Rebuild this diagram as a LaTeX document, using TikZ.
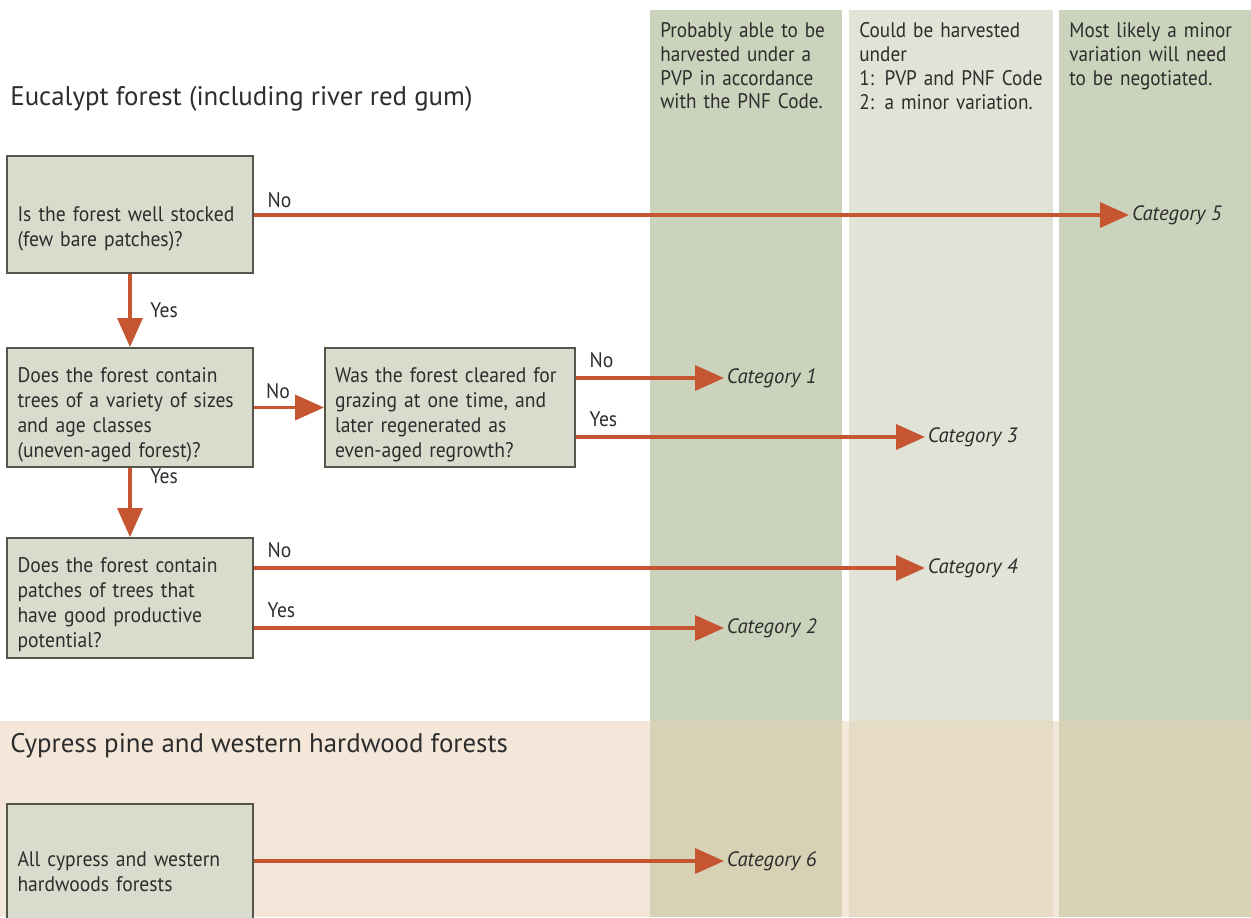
\documentclass[tikz,border=0pt]{standalone}
\usepackage{fontspec}
\setmainfont{PT Sans}
\newfontfamily\boxfont{PT Sans}[FakeStretch=0.93]
\newfontfamily\headfont{PT Sans}[FakeStretch=0.91]
\usetikzlibrary{arrows.meta,positioning}
\definecolor{sage}{RGB}{203,211,189}
\definecolor{pale}{RGB}{224,227,214}
\definecolor{peach}{RGB}{244,230,216}
\definecolor{sageband}{RGB}{215,209,182}
\definecolor{paleband}{RGB}{230,220,198}
\definecolor{boxfill}{RGB}{216,220,205}
\definecolor{boxline}{RGB}{85,85,75}
\definecolor{arrowc}{RGB}{198,86,50}
\definecolor{ink}{RGB}{45,45,45}
\def\Cat{Category}

\begin{document}
\begin{tikzpicture}[x=0.02cm,y=-0.02cm,% pixel-like units, y going down
      every node/.style={
        text=ink,
        font=\boxfont\fontsize{12}{14.2}\selectfont
      },
      qbox/.style={rectangle,draw=boxline,line width=1.1pt,fill=boxfill,
        align=left,text width=4.5cm,minimum width=4.92cm,
        inner xsep=0.2cm,inner ysep=0.05cm,text height=16.5pt},
      cat/.style={anchor=west,inner sep=1.5pt,font=\fontsize{11.8}{14.2}\selectfont\itshape},
      head/.style={anchor=north west,align=left,inner sep=0pt,text width=3.9cm,
        font=\headfont\fontsize{12}{13.6}\selectfont},
      title/.style={anchor=base west,inner sep=0pt,font=\fontsize{15.3}{18}\selectfont},
      sidelbl/.style={pos=0,anchor=south west,xshift=0.17cm,yshift=0.1cm,inner sep=2pt},
      downlbl/.style={anchor=west,xshift=0.3cm,inner sep=2pt},
      every edge/.style={draw=arrowc,line width=2pt,
        -{Triangle[length=0.58cm,width=0.5cm]}}
    ]
    \useasboundingbox (0,0) rectangle (1251,917);
    % columns and bands
    \fill[sage] (650,10) rectangle (842,721);
    \fill[pale] (849,10) rectangle (1053,721);
    \fill[sage] (1059,10) rectangle (1251,721);
    \fill[peach] (0,721) rectangle (1251,917);
    \fill[sageband] (650,721) rectangle (842,917);
    \fill[paleband] (849,721) rectangle (1053,917);
    \fill[sageband] (1059,721) rectangle (1251,917);

    \node[head](H1) at (660,22){Probably able to be\\harvested under a\\PVP in accordance\\with the PNF Code.};
    \node[head](H2) at (859,22){Could be harvested\\under\\1: PVP and PNF Code\\2: a minor variation.};
    \node[head](H3) at (1069,22){Most likely a minor\\variation will need\\to be negotiated.};

    \node[title](T1) at (10,105){Eucalypt forest (including river red gum)};
    \node[title](T2) at (10,752){Cypress pine and western hardwood forests};

    \node[qbox,minimum height=2.34cm,text height=25pt](Q1) at (130,214.5){Is the forest well stocked\\(few bare patches)?};
    \node[qbox,minimum height=2.38cm](Q2) at (130,407.5){Does the forest contain\\trees of a variety of sizes\\and age classes\\(uneven-aged forest)?};
    \node[qbox,minimum height=2.38cm,text width=4.6cm,minimum width=5cm](Q3) at (450,407.5){Was the forest cleared for\\grazing at one time, and\\later regenerated as\\even-aged regrowth?};
    \node[qbox,minimum height=2.4cm](Q4) at (130,598){Does the forest contain\\patches of trees that\\have good productive\\potential?};
    \node[qbox,minimum height=2.44cm](Q5) at (130,865){All cypress and western\\hardwoods forests};

    \node[cat](C1) at (724,378){\Cat\ 1};
    \node[cat](C2) at (724,628){\Cat\ 2};
    \node[cat](C3) at (925,437){\Cat\ 3};
    \node[cat](C4) at (925,568){\Cat\ 4};
    \node[cat](C5) at (1129,215){\Cat\ 5};
    \node[cat](C6) at (724,861){\Cat\ 6};

    \path
    (Q1.east |- C5) edge node[sidelbl,yshift=-0.06cm] (N1) {No} (C5)
    (Q1) edge node[downlbl,pos=0.5] (Y1) {Yes} (Q2)
    (Q2) edge node[sidelbl,xshift=-0.03cm,yshift=-0.03cm] (N2) {No} (Q3)
    (Q3.east |- C1) edge node[sidelbl] (N3) {No} (C1)
    (Q3.east |- C3) edge node[sidelbl] (Y3) {Yes} (C3)
    (Q2) edge node[downlbl,pos=0.12] (Y2) {Yes} (Q4)
    (Q4.east |- C4) edge node[sidelbl] (N4) {No} (C4)
    (Q4.east |- C2) edge node[sidelbl] (Y4) {Yes} (C2)
    (Q5.east |- C6) edge [] node [] {} (C6)
    ;
  \end{tikzpicture}
\end{document}
